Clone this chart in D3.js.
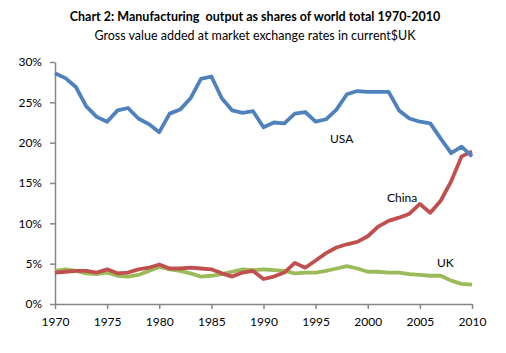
<!DOCTYPE html>
<html>
<head>
<meta charset="utf-8">
<script src="https://cdn.jsdelivr.net/npm/d3@7"></script>
<style>
  html, body { margin: 0; padding: 0; background: #fff; }
  svg { display: block; }
</style>
</head>
<body>
<div id="chart"></div>
<script>
const years = [1970, 1971, 1972, 1973, 1974, 1975, 1976, 1977, 1978, 1979,
    1980, 1981, 1982, 1983, 1984, 1985, 1986, 1987, 1988, 1989,
    1990, 1991, 1992, 1993, 1994, 1995, 1996, 1997, 1998, 1999,
    2000, 2001, 2002, 2003, 2004, 2005, 2006, 2007, 2008, 2009, 2010];
// shares of world manufacturing output, %
const usa = [28.6, 28.0, 26.9, 24.5, 23.2, 22.6, 24.0, 24.3, 23.0, 22.3,
    21.3, 23.6, 24.1, 25.5, 27.9, 28.2, 25.5, 24.0, 23.7, 23.9,
    21.9, 22.5, 22.4, 23.6, 23.8, 22.6, 22.9, 24.1, 26.0, 26.4,
    26.3, 26.3, 26.3, 24.0, 23.0, 22.6, 22.4, 20.5, 18.7, 19.5, 18.3];
const china = [3.9, 4.0, 4.1, 4.1, 3.9, 4.3, 3.8, 3.9, 4.3, 4.5,
    4.9, 4.4, 4.4, 4.5, 4.4, 4.3, 3.8, 3.4, 3.9, 4.1,
    3.1, 3.4, 3.9, 5.1, 4.5, 5.4, 6.3, 7.0, 7.4, 7.7,
    8.4, 9.6, 10.3, 10.7, 11.2, 12.4, 11.3, 12.8, 15.2, 18.3, 18.9];
const uk = [4.1, 4.3, 4.1, 3.8, 3.7, 3.9, 3.5, 3.4, 3.6, 4.1,
    4.6, 4.3, 4.1, 3.8, 3.4, 3.5, 3.7, 4.0, 4.3, 4.2,
    4.3, 4.2, 4.1, 3.8, 3.9, 3.9, 4.1, 4.4, 4.7, 4.4,
    4.0, 4.0, 3.9, 3.9, 3.7, 3.6, 3.5, 3.5, 2.9, 2.5, 2.4];
const xTicks = [1970, 1975, 1980, 1985, 1990, 1995, 2000, 2005, 2010];
const yTicks = [0, 5, 10, 15, 20, 25, 30];

const width = 506, height = 353;
const margin = { top: 62, right: 34, bottom: 49, left: 55 };
const innerWidth = width - margin.left - margin.right;
const innerHeight = height - margin.top - margin.bottom;
const font = 'Lato, "Open Sans", sans-serif';

const svg = d3.select('#chart').append('svg')
    .attr('width', width).attr('height', height)
    .attr('font-family', font).attr('font-size', 12);

svg.append('text').attr('x', 255).attr('y', 21).attr('text-anchor', 'middle')
    .attr('font-size', 12.5).attr('font-weight', 'bold').attr('xml:space', 'preserve')
    .attr('fill', '#000').text('Chart 2: Manufacturing  output as shares of world total 1970-2010');
svg.append('text').attr('x', 255).attr('y', 39.5).attr('text-anchor', 'middle')
    .attr('font-size', 12.5).attr('fill', '#000')
    .text('Gross value added at market exchange rates in current$UK');

const chart = svg.append('g').attr('transform', `translate(${margin.left},${margin.top})`);

const xScale = d3.scaleLinear().domain([1970, 2010]).range([0, innerWidth]);
const yScale = d3.scaleLinear().domain([0, 30]).range([innerHeight, 0]);

const xAxis = d3.axisBottom(xScale).tickValues(xTicks).tickFormat(d3.format('d')).tickSize(5).tickSizeOuter(0);
const yAxis = d3.axisLeft(yScale).tickValues(yTicks).tickFormat(d => d + '%').tickSize(5).tickSizeOuter(0);

const gx = chart.append('g').attr('transform', `translate(0,${innerHeight})`).call(xAxis);
const gy = chart.append('g').call(yAxis);
[gx, gy].forEach(g => {
    g.attr('font-family', font).attr('font-size', 12);
    g.select('.domain').attr('stroke', '#868686').attr('stroke-width', 1.5);
    g.selectAll('.tick line').attr('stroke', '#868686').attr('stroke-width', 1.5);
    g.selectAll('.tick text').attr('fill', '#000');
});
gx.selectAll('.tick text').attr('dy', null).attr('y', 22);
gy.selectAll('.tick text').attr('x', -13);

const line = d3.line().x((d, i) => xScale(years[i])).y(d => yScale(d));
const series = [
    { values: uk, color: '#9BBB59' },
    { values: china, color: '#C0504D' },
    { values: usa, color: '#4F81BD' }
];
chart.selectAll('.series').data(series).enter().append('path')
    .attr('class', 'series')
    .attr('d', d => line(d.values))
    .attr('fill', 'none')
    .attr('stroke', d => d.color)
    .attr('stroke-width', 3.8)
    .attr('stroke-linejoin', 'round');

const labels = [
    { text: 'USA', x: 330, y: 143 },
    { text: 'China', x: 387, y: 202 },
    { text: 'UK', x: 437, y: 267 }
];
svg.selectAll('.label').data(labels).enter().append('text')
    .attr('class', 'label')
    .attr('x', d => d.x).attr('y', d => d.y)
    .attr('fill', '#000')
    .text(d => d.text);
</script>
</body>
</html>
